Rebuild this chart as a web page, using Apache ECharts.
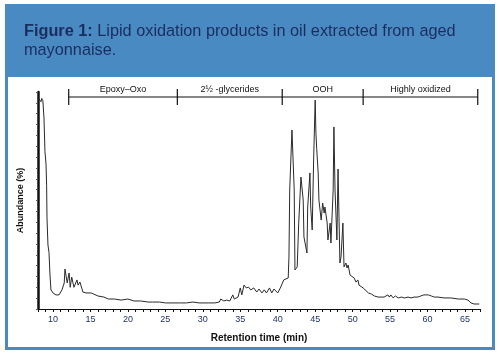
<!DOCTYPE html>
<html>
<head>
<meta charset="utf-8">
<script src="https://cdn.jsdelivr.net/npm/echarts@6/dist/echarts.min.js"></script>
<style>
html,body{margin:0;padding:0;background:#fff;}
#chart{width:500px;height:355px;}
</style>
</head>
<body>
<div id="chart"></div>
<script>
// Retention time (min)
var retentionTime = [
 8.1, 8.25, 8.4, 8.5, 8.65, 8.8, 8.93, 9.07, 9.15, 9.2, 9.33, 9.47, 9.6, 9.73, 10.0, 10.4, 10.8, 11.2, 11.5, 11.6,
 11.9, 12.15, 12.3, 12.5, 12.8, 13.2, 13.35, 13.6, 14.0, 14.4, 15.1, 16.0, 16.8, 17.4, 18.2, 19.1, 20.0, 20.8, 21.7, 22.7,
 23.3, 24.2, 25.0, 26.0, 26.9, 27.8, 28.7, 29.5, 30.8, 31.6, 32.2, 32.4, 32.8, 33.2, 33.6, 34.0, 34.2, 34.7, 35.0, 35.2,
 35.5, 35.8, 36.1, 36.4, 36.8, 37.2, 37.5, 37.9, 38.2, 38.5, 38.9, 39.2, 39.5, 40.0, 40.4, 40.8, 41.4, 41.5, 41.6, 41.9,
 42.2, 42.3, 42.6, 42.8, 43.1, 43.4, 43.5, 43.9, 44.0, 44.3, 44.4, 44.6, 44.8, 45.0, 45.1, 45.2, 45.4, 45.5, 45.8, 46.0,
 46.2, 46.3, 46.6, 46.7, 47.0, 47.1, 47.4, 47.5, 47.65, 47.9, 48.05, 48.3, 48.45, 48.7, 48.85, 49.1, 49.25, 49.4, 49.65, 49.9,
 50.2, 50.45, 50.7, 50.85, 51.1, 51.4, 51.5, 52.1, 52.5, 52.9, 53.4, 53.8, 54.2, 54.7, 54.9, 55.1, 55.4, 55.7, 56.1, 56.5,
 56.9, 57.4, 57.8, 58.2, 58.7, 59.1, 59.5, 60.1, 60.5, 60.9, 61.4, 62.2, 63.1, 64.1, 64.9, 65.4, 65.8, 66.2, 66.9
];
// Abundance (%)
var abundance = [
 97, 97.5, 95.5, 97, 96, 88, 72.5, 66.8, 57, 42, 29.5, 26, 15.7, 8.8, 7.4, 6.5, 6.5, 8.8, 12, 18.4,
 12, 16.6, 10, 14.7, 10, 13.4, 11, 12.4, 7.8, 7.4, 7.4, 6, 5.5, 4.6, 4.6, 4.1, 4.6, 3.7, 3.7, 3.2,
 3.2, 3.2, 2.8, 2.8, 2.8, 2.8, 3.2, 2.8, 2.8, 2.8, 3.2, 4.6, 3.7, 4.1, 3.7, 6.5, 4.6, 5.5, 9.7, 6.5,
 11, 9.7, 10.1, 8.8, 9.7, 7.8, 9.2, 7.4, 8.8, 7.4, 9.7, 7.4, 9.2, 7.4, 10.1, 13.4, 14.3, 24, 54.8, 82.5,
 54.8, 18, 19.4, 39.6, 60.8, 50.2, 33.2, 25.8, 47, 62.7, 47, 36.4, 70, 96.3, 81, 74, 62.7, 50.2, 41, 48.8,
 44.2, 47, 39.6, 31.8, 39.6, 30.4, 54.8, 83.9, 54.8, 31.8, 64.5, 21.2, 24, 39.6, 19.4, 21.2, 18.9, 20.3, 15.7, 16.6,
 14.3, 12.4, 13.4, 11, 10.1, 9.7, 8.8, 7.4, 6.9, 6, 5.5, 5.5, 5.5, 6.5, 5.5, 6.5, 5.1, 6, 5.1, 5.5,
 5.1, 5.5, 5.1, 5.5, 5.5, 6, 6.5, 6.5, 6, 5.5, 5.5, 5.1, 5.1, 4.6, 4.6, 4.1, 2.8, 2.3, 2.3
];
// Fraction brackets (boundaries in min) and their labels
var bracketEdges = [12.1, 26.6, 40.6, 51.4, 66.7];
var bracketLabels = ['Epoxy\u2013Oxo', '2\u00bd -glycerides', 'OOH', 'Highly oxidized'];
var bracketLevel = 97.7;

var traceData = retentionTime.map(function (t, i) { return [t, abundance[i]]; });
var bracketData = bracketLabels.map(function (lab, i) { return [bracketEdges[i], bracketEdges[i + 1], lab]; });

var BLUE = '#4a8ac3';
var NAVY = '#1b2d5e';
var FONT = '"Liberation Sans", Arial, sans-serif';

var chart = echarts.init(document.getElementById('chart'), null, {renderer: 'canvas'});
chart.setOption({
  animation: false,
  backgroundColor: '#fff',
  graphic: [
    {type: 'rect', z: -10, shape: {x: 5, y: 4, width: 490, height: 346}, style: {fill: BLUE}},
    {type: 'rect', z: -9, shape: {x: 8, y: 77, width: 484, height: 270}, style: {fill: '#fff'}}
  ],
  title: {
    left: 19, top: 17,
    text: '{b|Figure 1:} {n|Lipid oxidation products in oil extracted from aged}\n{n|mayonnaise.}',
    textStyle: {
      fontFamily: FONT, fontSize: 16.3, color: NAVY, lineHeight: 19,
      rich: {
        b: {fontWeight: 'bold', fontSize: 16.3, color: NAVY, fontFamily: FONT, lineHeight: 19},
        n: {fontWeight: 'normal', fontSize: 16.3, color: NAVY, fontFamily: FONT, lineHeight: 19}
      }
    }
  },
  grid: {left: 38, right: 20, top: 92, bottom: 46},
  xAxis: {
    type: 'value', min: 8, max: 67, interval: 1,
    name: 'Retention time (min)', nameLocation: 'middle', nameGap: 24,
    nameTextStyle: {fontFamily: FONT, fontSize: 10, fontWeight: 'bold', color: '#111'},
    axisLine: {lineStyle: {color: '#111', width: 1.2}},
    axisTick: {show: true, length: 3, lineStyle: {color: '#111'}},
    axisLabel: {
      interval: 0, fontFamily: FONT, fontSize: 9, color: '#1b2d5e', margin: 6,
      formatter: function (v) { return v % 5 === 0 ? String(v) : ''; }
    },
    splitLine: {show: false}
  },
  yAxis: {
    type: 'value', min: 0, max: 100, interval: 5,
    name: 'Abundance (%)', nameLocation: 'middle', nameGap: 13,
    nameTextStyle: {fontFamily: FONT, fontSize: 9, fontWeight: 'bold', color: '#111'},
    axisLine: {show: true, lineStyle: {color: '#111', width: 2.5}},
    axisTick: {show: true, length: 2, lineStyle: {color: '#555'}},
    axisLabel: {show: false},
    splitLine: {show: false}
  },
  series: [
    {
      type: 'line', data: traceData, showSymbol: false, symbol: 'none', smooth: false,
      lineStyle: {color: '#2a2a2a', width: 1}, z: 3
    },
    {
      type: 'custom', data: bracketData, clip: false, z: 4,
      renderItem: function (params, api) {
        var a = api.coord([api.value(0), bracketLevel]);
        var b = api.coord([api.value(1), bracketLevel]);
        var mid = (a[0] + b[0]) / 2;
        var label = bracketLabels[params.dataIndex];
        var children = [
          {type: 'line', shape: {x1: a[0], y1: a[1], x2: b[0], y2: b[1]}, style: {stroke: '#111', lineWidth: 1.2}},
          {type: 'line', shape: {x1: a[0], y1: a[1] - 8, x2: a[0], y2: a[1] + 8}, style: {stroke: '#111', lineWidth: 1.2}},
          {type: 'text', style: {text: label, x: mid, y: a[1] - 3, textAlign: 'center', textVerticalAlign: 'bottom',
            font: '9px ' + FONT, fill: '#111'}}
        ];
        if (params.dataIndex === bracketLabels.length - 1) {
          children.push({type: 'line', shape: {x1: b[0], y1: b[1] - 8, x2: b[0], y2: b[1] + 8}, style: {stroke: '#111', lineWidth: 1.2}});
        }
        return {type: 'group', children: children};
      }
    }
  ]
});
</script>
</body>
</html>
